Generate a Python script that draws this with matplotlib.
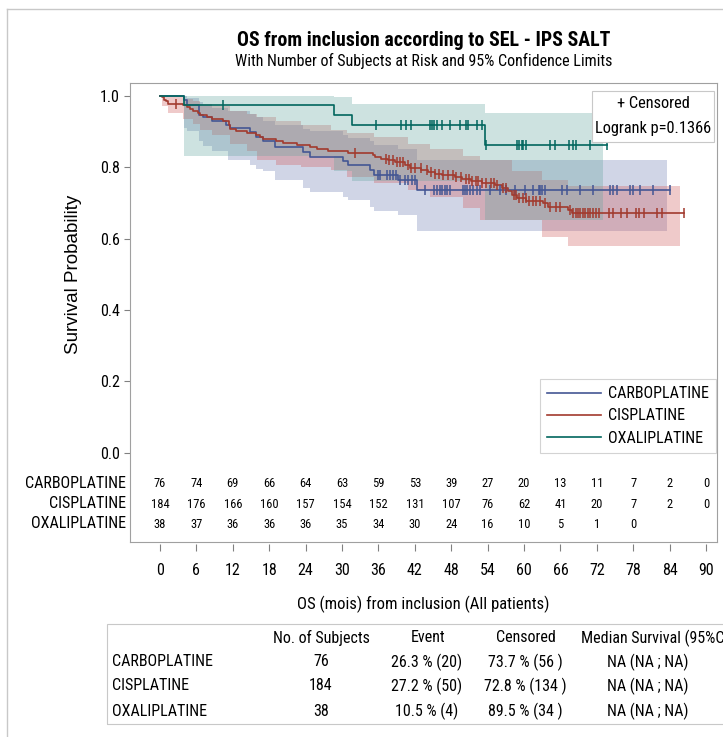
# -*- coding: utf-8 -*-
import numpy as np
import matplotlib
matplotlib.use("Agg")
import matplotlib.pyplot as plt
from matplotlib import font_manager
from matplotlib.lines import Line2D
from matplotlib.patches import Rectangle

# --- Groupes ---
groups = ["CARBOPLATINE", "CISPLATINE", "OXALIPLATINE"]

# --- Courbes de Kaplan-Meier (temps de saut, survie apres le saut) ---
carbo_t = [0, 3.9, 4.5, 6.4, 7.1, 8.5, 10.9, 11.5, 14.8, 15.9, 17.0, 18.9,
           23.6, 24.7, 30.2, 31.0, 34.6, 35.2, 39.3, 42.3]
carbo_s = [1.0, 0.987, 0.974, 0.947, 0.941, 0.928, 0.919, 0.909, 0.897, 0.884,
           0.873, 0.856, 0.843, 0.829, 0.816, 0.805, 0.792, 0.778, 0.764, 0.736]
carbo_end = 84.1

cis_t = [0, 0.3, 0.7, 1.0, 1.3, 3.85, 4.4, 4.9, 5.5, 6.3, 6.6, 7.7, 8.5, 10.4,
         11.3, 11.5, 12.6, 14.3, 15.9, 16.5, 17.0, 19.2, 20.3, 22.5, 24.7, 25.8,
         27.7, 31.0, 35.1, 35.4, 36.5, 37.6, 38.7, 40.3, 41.2, 43.1, 44.2, 45.3,
         46.4, 48.6, 49.7, 51.3, 53.0, 55.2, 56.3, 57.4, 58.0, 58.8, 60.4, 63.2,
         64.0, 67.3, 67.9]
cis_s = [1.0, 0.995, 0.989, 0.984, 0.978, 0.973, 0.967, 0.962, 0.956, 0.951,
         0.945, 0.940, 0.934, 0.929, 0.918, 0.907, 0.902, 0.896, 0.889, 0.884,
         0.879, 0.873, 0.868, 0.862, 0.856, 0.851, 0.845, 0.840, 0.834, 0.829,
         0.824, 0.819, 0.814, 0.806, 0.797, 0.792, 0.787, 0.782, 0.777, 0.772,
         0.767, 0.760, 0.755, 0.750, 0.741, 0.732, 0.722, 0.713, 0.706, 0.699,
         0.689, 0.680, 0.671]
cis_end = 86.3

oxa_t = [0, 4.0, 28.6, 31.7, 53.5]
oxa_s = [1.0, 0.974, 0.946, 0.919, 0.863]
oxa_end = 73.6

# --- Censures ---
carbo_cens = [36.0, 36.3, 37.4, 37.9, 38.4, 38.9, 39.6, 40.4, 40.9, 41.5, 42.0,
              43.7, 45.1, 45.6, 46.2, 46.4, 47.0, 47.3, 47.8, 50.0, 50.3, 50.6,
              51.1, 51.6, 52.2, 52.7, 54.4, 56.0, 57.1, 58.5, 60.2, 61.5, 62.4,
              62.6, 62.9, 63.5, 66.2, 67.0, 69.2, 71.4, 74.2, 74.7, 75.3, 77.5,
              78.0, 79.1, 81.3, 84.1]
cis_cens = [2.7, 32.1, 37.3, 37.8, 38.4, 39.0, 39.5, 40.0, 40.8, 41.3, 42.1,
            43.0, 44.0, 44.7, 45.3, 46.0, 46.7, 47.5, 48.3, 48.8, 49.6, 50.4,
            51.0, 51.5, 52.0, 52.4, 53.0, 53.7, 54.5, 55.1, 55.6, 56.6, 57.0,
            58.3, 58.7, 59.2, 59.8, 60.3, 60.8, 61.4, 62.0, 62.7, 63.5, 64.3,
            65.3, 66.0, 67.6, 68.1, 68.5, 68.9, 69.3, 69.7, 70.1, 70.5, 70.9,
            71.3, 71.8, 72.3, 74.0, 74.6, 75.9, 76.9, 78.4, 79.0, 79.8, 81.9,
            82.8, 86.3]
oxa_cens = [10.4, 35.6, 39.8, 40.6, 41.3, 44.5, 44.8, 45.1, 45.6, 46.4, 47.8,
            49.5, 50.4, 50.8, 52.2, 53.1, 53.8, 58.8, 59.2, 59.6, 59.9, 60.3,
            64.3, 65.1, 67.4, 68.1, 68.5, 70.9, 73.6]

# --- Intervalles de confiance a 95% ---
carbo_ci_t = [0, 3.9, 4.5, 6.4, 7.1, 8.5, 11.2, 14.8, 15.9, 17.0, 18.9, 23.6,
              24.7, 30.2, 31.0, 34.6, 35.2, 39.3, 42.3]
carbo_ci_lo = [1.0, 0.91, 0.90, 0.872, 0.858, 0.844, 0.82, 0.806, 0.795, 0.788,
               0.764, 0.741, 0.731, 0.716, 0.708, 0.688, 0.678, 0.666, 0.622]
carbo_ci_hi = [1.0, 0.998, 0.994, 0.982, 0.975, 0.966, 0.958, 0.948, 0.94, 0.93,
               0.918, 0.908, 0.90, 0.89, 0.882, 0.872, 0.862, 0.852, 0.82]
carbo_ci_end = 83.5

cis_ci_t = [0, 0.3, 1.3, 3.85, 5.5, 6.6, 8.5, 11.5, 14.3, 16.0, 19.2, 23.3,
            28.2, 30.9, 35.3, 40.8, 44.5, 50.0, 52.7, 58.0, 63.0, 67.3]
cis_ci_lo = [1.0, 0.97, 0.951, 0.935, 0.92, 0.905, 0.89, 0.865, 0.845, 0.82,
             0.805, 0.801, 0.792, 0.773, 0.755, 0.736, 0.717, 0.685, 0.652,
             0.652, 0.605, 0.58]
cis_ci_hi = [1.0, 1.0, 0.995, 0.99, 0.985, 0.978, 0.972, 0.958, 0.948, 0.94,
             0.93, 0.918, 0.905, 0.895, 0.885, 0.865, 0.85, 0.83, 0.82, 0.79,
             0.765, 0.747]
cis_ci_end = 85.7

oxa_ci_t = [0, 4.0, 28.6, 31.7, 53.5]
oxa_ci_lo = [1.0, 0.832, 0.79, 0.76, 0.652]
oxa_ci_hi = [1.0, 0.998, 0.997, 0.977, 0.951]
oxa_ci_end = 73.0

# --- Nombre de sujets a risque ---
risk_times = [0, 6, 12, 18, 24, 30, 36, 42, 48, 54, 60, 66, 72, 78, 84, 90]
carbo_risk = [76, 74, 69, 66, 64, 63, 59, 53, 39, 27, 20, 13, 11, 7, 2, 0]
cis_risk = [184, 176, 166, 160, 157, 154, 152, 131, 107, 76, 62, 41, 20, 7, 2, 0]
oxa_risk = [38, 37, 36, 36, 36, 35, 34, 30, 24, 16, 10, 5, 1, 0]

# --- Tableau resume ---
n_subjects = ["76", "184", "38"]
events = ["26.3 % (20)", "27.2 % (50)", "10.5 % (4)"]
censored = ["73.7 % (56 )", "72.8 % (134 )", "89.5 % (34 )"]
median_surv = ["NA (NA ; NA)", "NA (NA ; NA)", "NA (NA ; NA)"]
logrank_p = 0.1366

line_colors = ["#445694", "#A23A2E", "#01665E"]
band_colors = ["#6F7EB3", "#D05B5B", "#66A5A0"]

# --- Police etroite (la premiere disponible) ---
installed = {f.name for f in font_manager.fontManager.ttflist}
narrow = "Liberation Sans"
for cand in ["Liberation Sans Narrow", "Nimbus Sans Narrow", "Arial Narrow",
             "Roboto Condensed", "Archivo Narrow"]:
    if cand in installed:
        narrow = cand
        break
plt.rcParams["font.family"] = [narrow, "DejaVu Sans"]

W, H = 723, 737


def fx(px):
    return px / W


def fy(py):
    return 1 - py / H


def step_value(t_list, s_list, t):
    idx = np.searchsorted(np.array(t_list), t, side="right") - 1
    return np.array(s_list)[idx]


fig = plt.figure(figsize=(W / 100, H / 100), dpi=100)

# --- Cadre exterieur ---
fig.add_artist(Line2D([fx(7), fx(7)], [fy(9), 0], color="#C8C8C8", lw=1.0))
fig.add_artist(Line2D([fx(7), 1], [fy(9), fy(9)], color="#C8C8C8", lw=1.0))

ax = fig.add_axes([fx(130), fy(542), (717 - 130) / W, (542 - 83) / H])
ax.set_xlim(-4.94, 91.8)
ax.set_ylim(-0.250, 1.0356)

curves = [
    (carbo_t, carbo_s, carbo_end, carbo_cens, carbo_ci_t, carbo_ci_lo, carbo_ci_hi, carbo_ci_end),
    (cis_t, cis_s, cis_end, cis_cens, cis_ci_t, cis_ci_lo, cis_ci_hi, cis_ci_end),
    (oxa_t, oxa_s, oxa_end, oxa_cens, oxa_ci_t, oxa_ci_lo, oxa_ci_hi, oxa_ci_end),
]

# --- Bandes de confiance ---
for i, c in enumerate(curves):
    ci_t = list(c[4]) + [c[7]]
    lo = list(c[5]) + [c[5][-1]]
    hi = list(c[6]) + [c[6][-1]]
    ax.fill_between(ci_t, lo, hi, step="post", color=band_colors[i],
                    alpha=0.32, lw=0, zorder=1)

# --- Courbes et censures ---
for i, c in enumerate(curves):
    t = list(c[0]) + [c[2]]
    s = list(c[1]) + [c[1][-1]]
    ax.step(t, s, where="post", color=line_colors[i], lw=1.2, zorder=3)
    cens_s = step_value(c[0], c[1], np.array(c[3]))
    ax.plot(c[3], cens_s, ls="none", marker="|", ms=7, mew=1.1,
            color=line_colors[i], zorder=4)

# --- Axes ---
for side in ["left", "top", "right"]:
    ax.spines[side].set_color("#A0A0A0")
    ax.spines[side].set_linewidth(0.8)
ax.spines["bottom"].set_position(("outward", 1.5))
ax.spines["bottom"].set_visible(False)
ax.plot([0, 1], [0, 0], transform=ax.transAxes, color="#A0A0A0", lw=0.8,
        clip_on=False)

ax.set_yticks([0.0, 0.2, 0.4, 0.6, 0.8, 1.0])
ax.set_yticklabels(["0.0", "0.2", "0.4", "0.6", "0.8", "1.0"])
ax.set_xticks(risk_times)
ax.tick_params(axis="y", direction="out", length=4.5, width=0.8,
               color="#808080", labelsize=11.5, pad=3)
ax.tick_params(axis="x", direction="out", length=5, width=0.8,
               color="#808080", labelsize=11.5, pad=8.5)

# --- Sujets a risque ---
risk_rows = [carbo_risk, cis_risk, oxa_risk]
risk_y_px = [483, 504, 524]
for g, row, ypx in zip(groups, risk_rows, risk_y_px):
    yv = (452.7 - ypx) / 357.0
    for t, n in zip(risk_times, row):
        ax.text(t, yv, str(n), ha="center", va="center", fontsize=9)
    fig.text(fx(126), fy(ypx), g, ha="right", va="center", fontsize=11.5)

# --- Legende ---
handles = [Line2D([], [], color=col, lw=1.2) for col in line_colors]
leg = ax.legend(handles, groups, loc="upper left",
                bbox_to_anchor=(0.698, 0.355), fontsize=11.5, frameon=True,
                fancybox=False, edgecolor="#C8C8C8", handlelength=3.4,
                handletextpad=0.4, labelspacing=0.45, borderpad=0.45,
                borderaxespad=0)
leg.get_frame().set_linewidth(0.8)

# --- Encadre censure / logrank ---
fig.add_artist(Rectangle((fx(592), fy(142)), 122 / W, 51 / H, fill=True,
                         facecolor="white", edgecolor="#C8C8C8", lw=0.8,
                         transform=fig.transFigure, zorder=5))
fig.text(fx(653), fy(104), "+ Censored", ha="center", va="center",
         fontsize=11.8, zorder=6)
fig.text(fx(653), fy(129), f"Logrank p={logrank_p}", ha="center",
         va="center", fontsize=11.8, zorder=6)

# --- Titres ---
fig.text(fx(424), fy(40), "OS from inclusion according to SEL - IPS SALT",
         ha="center", va="center", fontsize=14.3, fontweight="bold")
fig.text(fx(424), fy(61),
         "With Number of Subjects at Risk and 95% Confidence Limits",
         ha="center", va="center", fontsize=11.5)
fig.text(fx(423.5), fy(604), "OS (mois) from inclusion (All patients)",
         ha="center", va="center", fontsize=12)
fig.text(fx(73), fy(274), "Survival Probability", rotation=90, ha="center",
         va="center", fontsize=13.5, family="Liberation Sans")

# --- Tableau resume ---
fig.add_artist(Rectangle((fx(107), fy(724)), (740 - 107) / W, 100 / H,
                         fill=False, edgecolor="#C8C8C8", lw=0.8,
                         transform=fig.transFigure))
fig.text(fx(321), fy(638), "No. of Subjects", ha="center", va="center", fontsize=11.5)
fig.text(fx(428), fy(638), "Event", ha="center", va="center", fontsize=11.5)
fig.text(fx(526), fy(638), "Censored", ha="center", va="center", fontsize=11.5)
fig.text(fx(581), fy(638), "Median Survival (95%CI)", ha="left", va="center",
         fontsize=11.5)
for i, ypx in enumerate([662, 686, 711]):
    fig.text(fx(112), fy(ypx), groups[i], ha="left", va="center", fontsize=11.5)
    fig.text(fx(321), fy(ypx), n_subjects[i], ha="center", va="center", fontsize=11.5)
    fig.text(fx(427), fy(ypx), events[i], ha="center", va="center", fontsize=11.5)
    fig.text(fx(525), fy(ypx), censored[i], ha="center", va="center", fontsize=11.5)
    fig.text(fx(648), fy(ypx), median_surv[i], ha="center", va="center", fontsize=11.5)

fig.savefig("out.png", dpi=100)
